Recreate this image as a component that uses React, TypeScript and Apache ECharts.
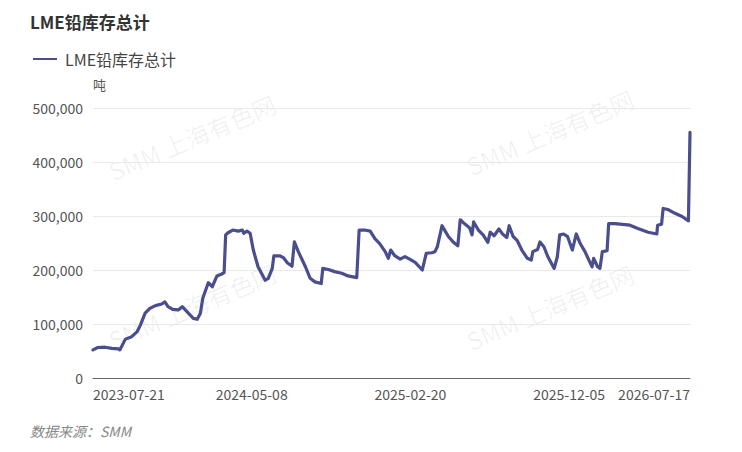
import React, { useEffect, useRef } from 'react';
import * as echarts from 'echarts';

// Axis calendar: LME trading days (weekdays minus UK bank holidays)
const firstDay = '2023-07-21';
const lastDay = '2026-07-17';
const ukHolidays = [
  '2023-08-28', '2023-12-25', '2023-12-26',
  '2024-01-01', '2024-03-29', '2024-04-01', '2024-05-06', '2024-05-27', '2024-08-26', '2024-12-25', '2024-12-26',
  '2025-01-01', '2025-04-18', '2025-04-21', '2025-05-05', '2025-05-26', '2025-08-25', '2025-12-25', '2025-12-26',
  '2026-01-01', '2026-04-03', '2026-04-06', '2026-05-04', '2026-05-25',
];

// Readings: [trading-day index, tonnes]
const inventoryReadings: [number, number][] = [
  [0, 52000], [6, 56500], [15, 57000], [24, 55000], [32, 54000], [34, 52000], [41, 72000], [49, 76500],
  [56, 86000], [60, 98000], [66, 120000], [72, 129000], [79, 134000], [87, 137000], [91, 141000], [95, 132000],
  [101, 127000], [108, 126000], [113, 132000], [119, 123000], [127, 110500], [132, 108700], [136, 120000],
  [139, 147600], [146, 176500], [151, 169000], [157, 189000], [163, 192600], [166, 195000], [168, 265000],
  [171, 269000], [177, 274000], [184, 272000], [189, 274000], [191, 268000], [195, 272000], [199, 268000],
  [203, 237000], [209, 206000], [218, 181000], [222, 184600], [227, 203000], [229, 226000], [237, 226000],
  [241, 223000], [246, 213500], [252, 207000], [255, 252000], [260, 234000], [269, 206000], [275, 184600],
  [281, 178000], [289, 175000], [291, 203000], [298, 201000], [306, 197000], [315, 194000], [323, 189000],
  [334, 186000], [337, 274000], [344, 274000], [351, 272000], [357, 258000], [363, 249000], [370, 234000],
  [374, 221600], [377, 237000], [382, 226500], [389, 220000], [395, 224700], [401, 220000], [408, 214000],
  [417, 200000], [422, 231000], [429, 232000], [433, 234000], [436, 243000], [442, 282000], [446, 272000],
  [450, 262000], [456, 252000], [462, 245000], [465, 293000], [471, 285000], [477, 278000], [480, 265000],
  [482, 289000], [488, 274000], [494, 265000], [500, 251000], [503, 270000], [508, 263500], [514, 276000],
  [519, 266000], [524, 260000], [527, 282000], [532, 262000], [537, 255000], [543, 237000], [550, 221600],
  [555, 218500], [557, 234000], [563, 238000], [566, 252000], [571, 243000], [576, 224600], [584, 203000],
  [588, 224600], [591, 265000], [596, 266700], [601, 261700], [607, 237000], [612, 266700], [617, 249000],
  [623, 234000], [629, 215000], [632, 206000], [634, 221600], [639, 206000], [642, 203000], [645, 234000],
  [651, 235700], [653, 286000], [661, 286000], [680, 283000], [690, 277000], [703, 270000], [714, 266700],
  [715, 283000], [720, 285000], [722, 314000], [728, 312000], [737, 305000], [746, 299000], [754, 291000],
  [756, 455000],
];

const yMin = 0;
const yMax = 500000;
const yInterval = 100000;

const titleText = 'LME铅库存总计';
const seriesName = 'LME铅库存总计';
const unitName = '吨';
const sourceText = '数据来源：SMM';
const watermarkText = 'SMM 上海有色网';

function buildTradingDays(start: string, end: string, holidays: string[]): string[] {
  const hol = new Set(holidays);
  const out: string[] = [];
  const [sy, sm, sd] = start.split('-').map(Number);
  const [ey, em, ed] = end.split('-').map(Number);
  let t = Date.UTC(sy, sm - 1, sd);
  const endT = Date.UTC(ey, em - 1, ed);
  while (t <= endT) {
    const d = new Date(t);
    const wd = d.getUTCDay();
    const s = d.toISOString().slice(0, 10);
    if (wd !== 0 && wd !== 6 && !hol.has(s)) out.push(s);
    t += 86400000;
  }
  return out;
}

const FONT = '"Microsoft YaHei", "Noto Sans CJK SC", "Noto Sans", sans-serif';
const LINE_COLOR = '#4a4e8d';

export default function App() {
  const ref = useRef<HTMLDivElement>(null);
  useEffect(() => {
    if (!ref.current) return;
    const chart = echarts.init(ref.current, undefined, { renderer: 'svg' });
    const categories = buildTradingDays(firstDay, lastDay, ukHolidays);
    const data = inventoryReadings.map(([i, v]) => [categories[i], v]);
    const wm = (x: number, y: number) => ({
      type: 'text',
      x,
      y,
      rotation: 0.4,
      silent: true,
      z: -10,
      style: {
        text: watermarkText,
        fontSize: 24,
        fontFamily: FONT,
        fill: 'rgba(0,0,0,0.06)',
        textAlign: 'center',
        textVerticalAlign: 'middle',
      },
    });
    chart.setOption({
      animation: false,
      backgroundColor: '#fff',
      title: {
        text: titleText,
        left: 25,
        top: 8,
        textStyle: { fontSize: 17, fontWeight: 'bold', color: '#333', fontFamily: FONT },
      },
      legend: {
        left: 28,
        top: 46,
        icon: 'rect',
        itemWidth: 24,
        itemHeight: 2,
        itemGap: 10,
        textStyle: { fontSize: 16, color: '#444', fontFamily: FONT, padding: [0, 0, 0, 3] },
        data: [seriesName],
      },
      grid: { left: 93, right: 52, top: 108, bottom: 74, containLabel: false, outerBoundsMode: 'none' },
      xAxis: {
        type: 'category',
        data: categories,
        boundaryGap: false,
        axisLine: { lineStyle: { color: '#666', width: 1 } },
        axisTick: { show: false },
        axisLabel: {
          interval: 200,
          showMaxLabel: true,
          showMinLabel: true,
          alignMinLabel: 'left',
          alignMaxLabel: 'right',
          fontSize: 14,
          color: '#555',
          margin: 9,
          fontFamily: FONT,
        },
        splitLine: { show: false },
      },
      yAxis: {
        type: 'value',
        min: yMin,
        max: yMax,
        interval: yInterval,
        name: unitName,
        nameGap: 17,
        nameTextStyle: { fontSize: 13, color: '#555', align: 'left', fontFamily: FONT },
        axisLine: { show: false },
        axisTick: { show: false },
        axisLabel: {
          fontSize: 14,
          color: '#555',
          margin: 10,
          fontFamily: FONT,
          formatter: (v: number) => v.toLocaleString('en-US'),
        },
        splitLine: { lineStyle: { color: '#e9e9e9' } },
      },
      graphic: [
        wm(192, 137),
        wm(550, 132),
        wm(192, 306),
        wm(550, 307),
        {
          type: 'text',
          left: 30,
          top: 424,
          style: {
            text: sourceText,
            fontSize: 14,
            fontStyle: 'italic',
            fontFamily: FONT,
            fill: '#888',
          },
        },
      ],
      series: [
        {
          name: seriesName,
          type: 'line',
          data,
          symbol: 'none',
          showSymbol: false,
          smooth: false,
          lineStyle: { color: LINE_COLOR, width: 3.2, join: 'round', cap: 'round' },
          itemStyle: { color: LINE_COLOR },
        },
      ],
    });
    return () => chart.dispose();
  }, []);
  return (
    <div
      ref={ref}
      style={{ position: 'fixed', left: 0, top: 0, width: 742, height: 452 }}
    />
  );
}
